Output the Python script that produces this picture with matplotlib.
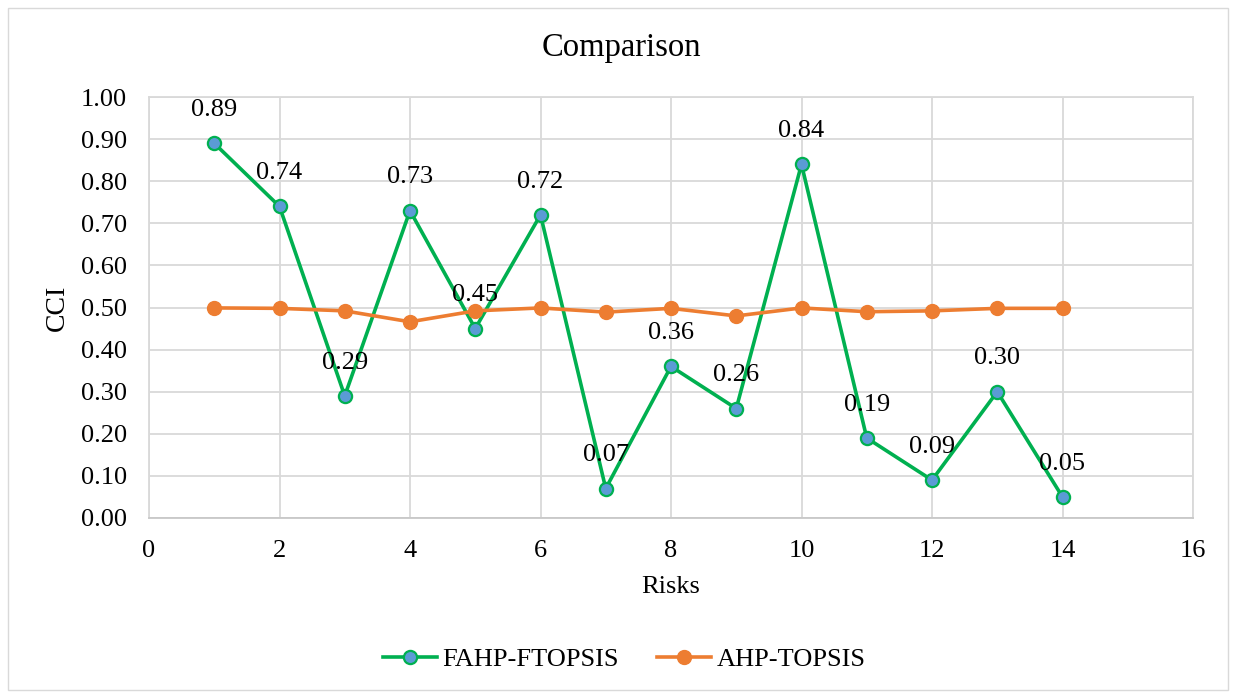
import matplotlib
matplotlib.use("Agg")
import matplotlib.pyplot as plt
from matplotlib.patches import Rectangle

# Risk index and closeness coefficients for the two methods
risks = [1, 2, 3, 4, 5, 6, 7, 8, 9, 10, 11, 12, 13, 14]
fahp_ftopsis = [0.89, 0.74, 0.29, 0.73, 0.45, 0.72, 0.07, 0.36, 0.26, 0.84, 0.19, 0.09, 0.30, 0.05]
ahp_topsis = [0.499, 0.498, 0.492, 0.466, 0.492, 0.499, 0.489, 0.498, 0.480, 0.499, 0.490, 0.492, 0.498, 0.498]
y_ticks = [0.0, 0.1, 0.2, 0.3, 0.4, 0.5, 0.6, 0.7, 0.8, 0.9, 1.0]
x_ticks = [0, 2, 4, 6, 8, 10, 12, 14, 16]

plt.rcParams["font.family"] = ["Liberation Serif", "DejaVu Serif"]

W, H = 1236, 694
fig = plt.figure(figsize=(W / 100, H / 100), dpi=100)
ax = fig.add_axes([149 / W, 1 - 518 / H, (1193 - 149) / W, (518 - 97) / H])

# Outer chart border
fig.patches.append(Rectangle((8 / W, 4 / H), (1228 - 8) / W, (686 - 4) / H,
                             transform=fig.transFigure, fill=False,
                             edgecolor="#d9d9d9", linewidth=1.0))

green = "#00b050"
orange = "#ed7d31"
blue = "#5b9bd5"

ax.plot(risks, fahp_ftopsis, color=green, linewidth=2.6, marker="o",
        markersize=9.5, markerfacecolor=blue, markeredgecolor=green,
        markeredgewidth=1.6, label="FAHP-FTOPSIS", zorder=3)
ax.plot(risks, ahp_topsis, color=orange, linewidth=2.6, marker="o",
        markersize=10, markerfacecolor=orange, markeredgecolor=orange,
        label="AHP-TOPSIS", zorder=4)

for x, v in zip(risks, fahp_ftopsis):
    ax.annotate(f"{v:.2f}", (x, v), xytext=(0, 24), textcoords="offset points",
                ha="center", va="center", fontsize=19, color="#000000", zorder=5)

ax.set_xlim(0, 16)
ax.set_ylim(0, 1.0)
ax.set_xticks(x_ticks)
ax.set_yticks(y_ticks)
ax.set_yticklabels([f"{t:.2f}" for t in y_ticks])
ax.tick_params(axis="both", length=0, labelsize=19)
ax.tick_params(axis="y", pad=16)
ax.tick_params(axis="x", pad=16)
ax.grid(True, color="#d9d9d9", linewidth=1.3)
ax.set_axisbelow(True)
for s in ax.spines.values():
    s.set_color("#d9d9d9")
    s.set_linewidth(1.3)
ax.spines["bottom"].set_color("#c8c8c8")

ax.set_xlabel("Risks", fontsize=19, labelpad=10)
ax.set_ylabel("CCI", fontsize=20, labelpad=8)
fig.text(621 / W, 1 - 48 / H, "Comparison", ha="center", va="center", fontsize=23.5)

fig.legend(loc="center", bbox_to_anchor=(624 / W, 1 - 659 / H), ncol=2,
           frameon=False, fontsize=19, handlelength=2.05, columnspacing=1.45,
           handletextpad=0.2)

fig.savefig("out.png", dpi=100)
